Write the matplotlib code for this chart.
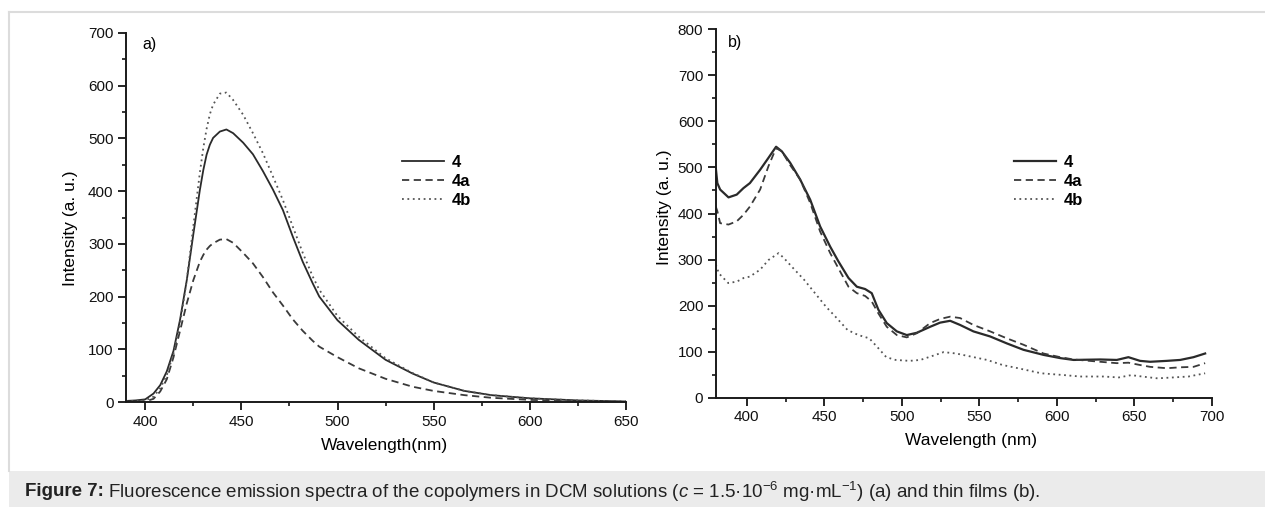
import matplotlib
matplotlib.use("Agg")
import matplotlib.pyplot as plt
from matplotlib.ticker import MultipleLocator
from matplotlib.patches import Rectangle
from matplotlib.lines import Line2D

plt.rcParams['font.family'] = ['Liberation Sans', 'DejaVu Sans']
plt.rcParams['mathtext.fontset'] = 'custom'
plt.rcParams['mathtext.rm'] = 'Liberation Sans'
plt.rcParams['mathtext.it'] = 'Liberation Sans:italic'
plt.rcParams['mathtext.bf'] = 'Liberation Sans:bold'

# ---- panel a: DCM solutions ----
wl_a = [390, 395, 400, 404.3, 407.8, 411.2, 414.7, 418.1, 421.6, 425, 428.4, 430.2, 431.9,
        433.6, 435.3, 438.8, 442.2, 445.7, 450.9, 456, 461.2, 466.4, 471.6, 476.7, 481.9,
        487.1, 490.5, 500, 511, 525, 539, 550, 566, 580, 600, 625, 650]
a_4 = [2, 3, 5, 16, 32, 58, 97, 156, 231, 318, 402, 440, 469,
       488, 501, 513, 517, 510, 492, 470, 438, 403, 364, 314, 266,
       225, 200, 155, 118, 80, 54, 37, 21, 13, 7, 3, 1]
a_4b = [1, 2, 3, 10, 26, 51, 92, 149, 231, 333, 435, 482, 518,
        546, 564, 585, 587, 573, 545, 510, 472, 428, 383, 333, 283,
        238, 213, 163, 124, 83, 55, 37, 21, 13, 7, 3, 1]
a_4a = [0, 0, 1, 6, 20, 43, 85, 135, 187, 231, 266, 279, 289,
        296, 301, 308, 309, 302, 283, 263, 237, 208, 183, 157, 135,
        116, 105, 85, 64, 44, 29, 21, 13, 8, 4, 2, 0]

# ---- panel b: thin films ----
wl_b = [380, 381, 382.8, 388.2, 393.5, 397.8, 402, 408.6, 414, 418.9, 422.6, 428, 434.4,
        440.9, 447.3, 453.8, 459.1, 465.6, 471, 476.3, 480.6, 484.9, 490.3, 496.8, 503.2,
        509.7, 518.3, 524.7, 531.2, 537.6, 546.2, 557, 567.7, 578.5, 591.4, 602.2, 610.8,
        628, 638.7, 646.2, 653.7, 660.2, 671, 679.6, 688.2, 695.7]
b_4 = [499, 466, 452, 435, 441, 455, 466, 495, 521, 545, 535, 510, 474,
       430, 372, 328, 296, 260, 241, 236, 227, 191, 162, 144, 136,
       141, 154, 163, 167, 158, 144, 133, 118, 104, 93, 86, 82,
       83, 82, 88, 80, 78, 80, 82, 88, 96]
b_4a = [415, 405, 379, 376, 383, 397, 415, 452, 503, 542, 535, 505, 474,
        423, 361, 314, 281, 241, 227, 221, 209, 183, 154, 136, 131,
        140, 162, 171, 176, 173, 158, 144, 129, 115, 96, 88, 83,
        78, 75, 76, 71, 67, 64, 66, 67, 75]

# dotted series of panel b, read on its own wavelength grid
wl_b4b = [380, 382, 388, 393.5, 398, 402, 408.6, 414, 420.5, 424, 430, 437, 444, 451,
          458, 465, 472, 479, 485, 490, 496, 505, 512, 520, 527, 535, 545, 555, 565,
          575, 590, 605, 615, 630, 640, 648, 655, 665, 675, 685, 695.7]
b_4b = [289, 270, 249, 252, 260, 263, 278, 299, 314, 303, 281, 256, 227, 198,
        173, 147, 136, 129, 107, 88, 82, 80, 82, 91, 99, 96, 89, 82, 71,
        64, 53, 49, 46, 46, 44, 49, 46, 42, 44, 46, 53]

labels = ['4', '4a', '4b']

W, H = 1265, 507
fig = plt.figure(figsize=(W / 100, H / 100), dpi=100)

# page frame + caption band
fig.add_artist(Line2D([9 / W, 1], [1 - 12 / H, 1 - 12 / H], color='#dcdcdc', lw=1.5))
fig.add_artist(Line2D([9 / W, 9 / W], [1 - 12 / H, 36 / H], color='#dcdcdc', lw=1.5))
fig.add_artist(Rectangle((9 / W, 0), 1, 36 / H, color='#ebebeb', lw=0))


def style_axes(ax):
    for s in ['top', 'right']:
        ax.spines[s].set_visible(False)
    for s in ['left', 'bottom']:
        ax.spines[s].set_linewidth(1.4)
        ax.spines[s].set_color('#1a1a1a')
    ax.tick_params(which='major', direction='out', length=6, width=1.2, labelsize=11, pad=3,
                   labelcolor='#111111')
    ax.tick_params(which='minor', direction='out', length=3, width=1.1)
    ax.patch.set_alpha(0)


ax1 = fig.add_axes([126 / W, 1 - 402 / H, 500 / W, 369 / H])
ax1.plot(wl_a, a_4, color='#2a2a2a', lw=1.3, ls='-', label=labels[0])
ax1.plot(wl_a, a_4a, color='#3a3a3a', lw=1.3, ls=(0, (4, 2.5)), label=labels[1])
ax1.plot(wl_a, a_4b, color='#555555', lw=1.3, ls=(0, (1, 2)), label=labels[2])
ax1.set_xlim(390, 650)
ax1.set_ylim(0, 700)
ax1.xaxis.set_major_locator(MultipleLocator(50))
ax1.xaxis.set_minor_locator(MultipleLocator(25))
ax1.yaxis.set_major_locator(MultipleLocator(100))
ax1.yaxis.set_minor_locator(MultipleLocator(50))
style_axes(ax1)
ax1.set_xlabel('Wavelength(nm)', fontsize=12.5)
ax1.set_ylabel('Intensity (a. u.)', fontsize=12.5)
ax1.xaxis.set_label_coords(0.517, -0.119)
ax1.xaxis.label.set_va('center')
ax1.yaxis.set_label_coords(-0.11, 0.47)
ax1.yaxis.label.set_va('center')
ax1.legend(loc='upper left', bbox_to_anchor=(402 / W, 1 - 155 / H), bbox_transform=fig.transFigure,
           frameon=False, handlelength=2.5, handletextpad=0.5, labelspacing=0.25, borderpad=0,
           borderaxespad=0, prop={'weight': 'bold', 'size': 12})
fig.text(142 / W, 1 - 45 / H, 'a)', fontsize=11.5, va='center', ha='left')

ax2 = fig.add_axes([715.8 / W, 1 - 397.7 / H, 496 / W, 368.4 / H])
ax2.plot(wl_b, b_4, color='#2a2a2a', lw=1.6, ls='-', label=labels[0])
ax2.plot(wl_b, b_4a, color='#3a3a3a', lw=1.3, ls=(0, (4, 2.5)), label=labels[1])
ax2.plot(wl_b4b, b_4b, color='#555555', lw=1.3, ls=(0, (1, 2)), label=labels[2])
ax2.set_xlim(380, 700)
ax2.set_ylim(0, 800)
ax2.xaxis.set_major_locator(MultipleLocator(50))
ax2.xaxis.set_minor_locator(MultipleLocator(25))
ax2.yaxis.set_major_locator(MultipleLocator(100))
ax2.yaxis.set_minor_locator(MultipleLocator(50))
style_axes(ax2)
ax2.set_xlabel('Wavelength (nm)', fontsize=12.5)
ax2.set_ylabel('Intensity (a. u.)', fontsize=12.5)
ax2.xaxis.set_label_coords(0.514, -0.115)
ax2.xaxis.label.set_va('center')
ax2.yaxis.set_label_coords(-0.104, 0.516)
ax2.yaxis.label.set_va('center')
ax2.legend(loc='upper left', bbox_to_anchor=(1014 / W, 1 - 155 / H), bbox_transform=fig.transFigure,
           frameon=False, handlelength=2.5, handletextpad=0.5, labelspacing=0.25, borderpad=0,
           borderaxespad=0, prop={'weight': 'bold', 'size': 12})
fig.text(728 / W, 1 - 42 / H, 'b)', fontsize=11.5, va='center', ha='left')

# caption
cap_y = 1 - 492 / H
t1 = fig.text(25 / W, cap_y, 'Figure 7:', fontsize=13.5, weight='bold', va='center', color='#222222')
renderer = fig.canvas.get_renderer()
bb = t1.get_window_extent(renderer)
fig.text((bb.x1 + 4) / W, cap_y,
         r'Fluorescence emission spectra of the copolymers in DCM solutions ($c$ = 1.5·10$^{-6}$ mg·mL$^{-1}$) (a) and thin films (b).',
         fontsize=13.5, va='center', color='#222222')

fig.savefig('out.png', dpi=100)
